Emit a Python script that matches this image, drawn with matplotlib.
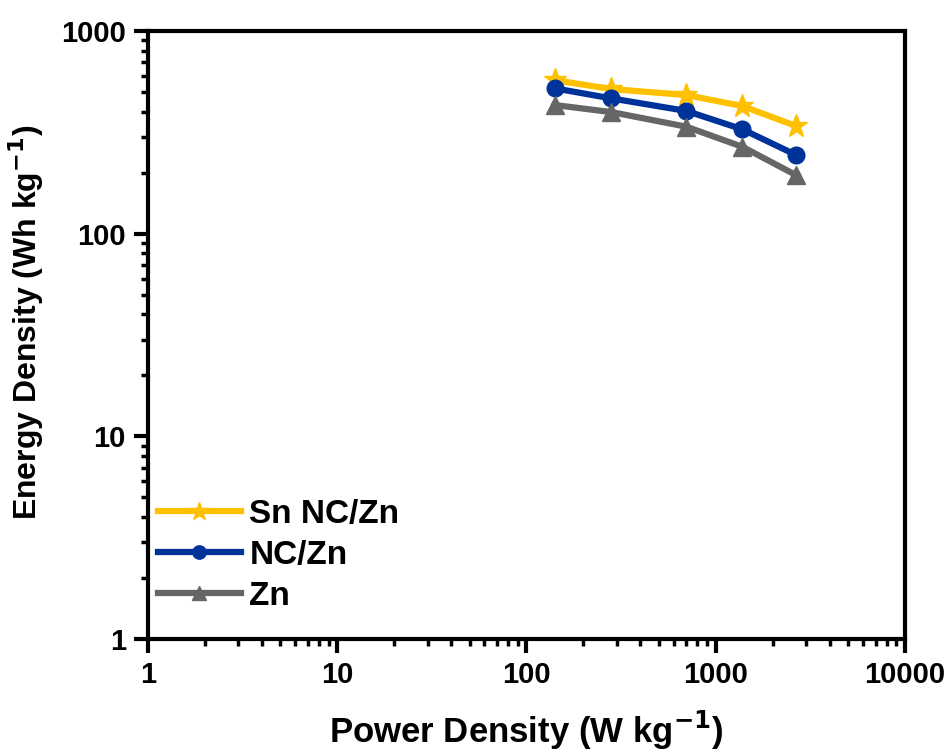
import matplotlib.pyplot as plt
import numpy as np

plt.rcParams['font.family'] = ['Liberation Sans', 'DejaVu Sans']
plt.rcParams['font.weight'] = 'bold'

power = [141, 280, 700, 1385, 2670]
sn_nc_zn = [572, 517, 483, 426, 339]
nc_zn = [521, 465, 403, 327, 244]
zn = [431, 398, 337, 268, 194]

fig = plt.figure(figsize=(9.51, 7.55), dpi=100)
ax = fig.add_axes([0.1556, 0.1536, 0.7960, 0.8054])

ax.plot(power, sn_nc_zn, color='#FFC000', lw=4.5, marker='*', ms=17, label='Sn NC/Zn')
ax.plot(power, nc_zn, color='#003399', lw=4.5, marker='o', ms=12, label='NC/Zn')
ax.plot(power, zn, color='#666666', lw=4.5, marker='^', ms=13, label='Zn')

ax.set_xscale('log')
ax.set_yscale('log')
ax.set_xlim(1, 10000)
ax.set_ylim(1, 1000)
ax.set_xticks([1, 10, 100, 1000, 10000])
ax.set_xticklabels(['1', '10', '100', '1000', '10000'])
ax.set_yticks([1, 10, 100, 1000])
ax.set_yticklabels(['1', '10', '100', '1000'])

for s in ax.spines.values():
    s.set_linewidth(3)
ax.tick_params(which='major', length=10, width=3, labelsize=21, direction='out', pad=6)
ax.tick_params(which='minor', length=5, width=2.5, direction='out')

ax.set_xlabel('Power Density (W kg$^{\\mathbf{-1}}$)', fontsize=25, fontweight='bold', labelpad=14)
ax.set_ylabel('Energy Density (Wh kg$^{\\mathbf{-1}}$)', fontsize=23, fontweight='bold')
ax.yaxis.set_label_coords(-0.135, 0.52)

ax.legend(loc='lower left', bbox_to_anchor=(0.013, 0.045), frameon=False, fontsize=24,
          handlelength=2.5, labelspacing=0.3, handletextpad=0.25, borderpad=0, borderaxespad=0,
          markerscale=0.8)

fig.savefig('out.png')
